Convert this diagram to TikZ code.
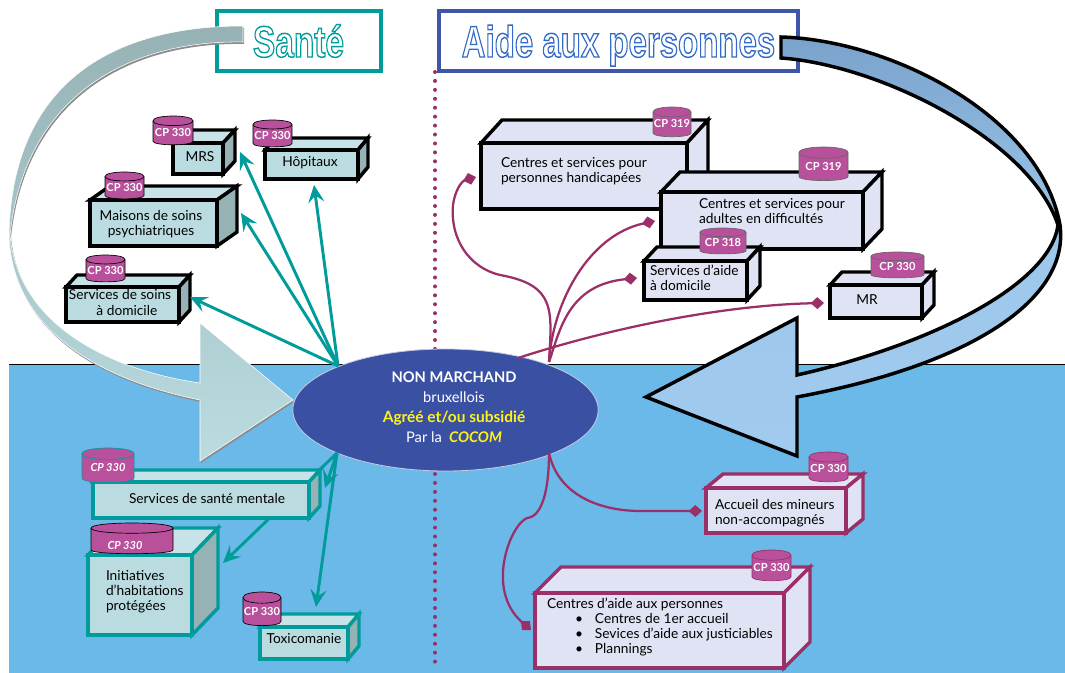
\documentclass[tikz,border=0pt]{standalone}
\usepackage{fontspec}
\usepackage{graphicx}
\usetikzlibrary{arrows.meta,shapes.geometric}
\setmainfont{Lato}
\newfontfamily\titlefont{Liberation Sans}
\definecolor{tealc}{HTML}{009B9B}
\definecolor{bluec}{HTML}{3F56A8}
\definecolor{magc}{HTML}{9B3068}
\definecolor{cylc}{HTML}{B8509B}
\definecolor{seac}{HTML}{6BB9E8}
\definecolor{hubc}{HTML}{3A50A3}
\definecolor{tfront}{HTML}{BADCE0}
\definecolor{ttop}{HTML}{C8E3E8}
\definecolor{tside}{HTML}{96B2B5}
\definecolor{lav}{HTML}{E0E3F3}
\definecolor{ltop}{HTML}{E0E3F3}
\definecolor{lside}{HTML}{E0E3F3}
\definecolor{yel}{HTML}{FFF21A}
\definecolor{bandA}{HTML}{7AA3CC}
\definecolor{bandB}{HTML}{9DC8EB}
\definecolor{bandC}{HTML}{A0CAEE}
\tikzset{
  lbl/.style={inner sep=0pt,outer sep=0pt,text=black,font=\fontsize{10.3}{11.3}\selectfont,align=left},
  cyllbl/.style={inner sep=0pt,text=white,font=\fontsize{8.3}{9}\selectfont\bfseries},
  blackT/.style={draw=black,fill=tfront,line width=2.6pt},
  tealT/.style={draw=tealc,fill=tfront,line width=2.6pt},
  blackL/.style={draw=black,fill=lav,line width=2.6pt},
  magL/.style={draw=magc,fill=lav,line width=2.6pt},
  tealarrow/.style={draw=tealc,line width=2.2pt,-{Stealth[length=13pt,width=12pt,inset=5pt]}},
  magline/.style={draw=magc,line width=1.7pt,-{Diamond[length=10pt,width=9pt,fill=magc]}},
  titlebox/.style={fill=white,line width=3pt,inner sep=0pt,outer sep=0pt,text height=24pt,text depth=0pt},
  hubtext/.style={inner sep=0pt,text=white,align=center,font=\fontsize{11}{15}\selectfont}
}
% cube: [front style]{name}{x1}{y1}{x2}{y2}{dx}{dy/colour family}
\newcommand\cube[8][blackT]{%
  \pgfmathsetmacro\cw{(#5-#3)*0.75}\pgfmathsetmacro\ch{(#6-#4)*0.75}%
  \cubefaces{#1}{#3}{#4}{#5}{#6}{#7}{#8}%
  \node[#1,rectangle,inner sep=0pt,outer sep=0pt,minimum width=\cw pt,minimum height=\ch pt] (box#2) at ({(#3+#5)/2},{(#4+#6)/2}) {};
}
\newcommand\cubefaces[7]{\cubefacesB{#1}{#2}{#3}{#4}{#5}{#6}#7\relax}
\def\cubefacesB#1#2#3#4#5#6#7/#8\relax{%
  \path[#1,fill=#8top,line join=miter] (#2,#3) -- (#2+#6,#3-#7) -- (#4+#6,#3-#7) -- (#4,#3) -- cycle;
  \path[#1,fill=#8side,line join=miter] (#4,#3) -- (#4+#6,#3-#7) -- (#4+#6,#5-#7) -- (#4,#5) -- cycle;
}
% cylinder: [line colour]{name}{x1}{y1}{x2}{y2}{text}
\def\cylx{0}\def\cyly{0}
\newcommand\cyl[7][black]{%
  \pgfmathsetmacro\crx{(#5-#3)/2}\pgfmathsetmacro\cry{(#6-#4)*0.16}\pgfmathsetmacro\cmx{(#3+#5)/2}%
  \draw[#1,fill=cylc,line width=.5pt] (#3,#4+\cry) -- (#3,#6-\cry) .. controls (#3,#6) and (#5,#6) .. (#5,#6-\cry) -- (#5,#4+\cry) .. controls (#5,#4-\cry*.33) and (#3,#4-\cry*.33) .. (#3,#4+\cry) -- cycle;
  \draw[#1,line width=.5pt] (#3,#4+\cry) .. controls (#3,#4+2.33*\cry) and (#5,#4+2.33*\cry) .. (#5,#4+\cry);
  \node[cyllbl] (#2) at (\cmx+\cylx,{(#4+#6)/2+\cry*.3+\cyly}) {#7};
}
\newcommand\outlined[2]{\special{pdf:code q 2 Tr 1.1 w #1 RG}#2\special{pdf:code Q}}
\begin{document}
\begin{tikzpicture}[x=0.75pt,y=-0.75pt]
\useasboundingbox (0,0) rectangle (1065,673);
\fill[white] (0,0) rectangle (1065,673);
% sea
\path[fill=seac] (9,364) rectangle (1065,673);
\draw[black,line width=.7pt] (9,364) -- (1065,364);
% dotted separator
\coordinate (sepA) at (435,72);
\coordinate (sepB) at (435,665);
\draw[magc,line width=3pt,line cap=round,dash pattern=on 0pt off 6.7pt] (sepA) -- (sepB);
% titles
\node[titlebox,draw=tealc,minimum width=123pt,minimum height=45pt] (sante) at (298.5,41)
  {\titlefont\fontsize{33}{33}\selectfont\bfseries\color{white}\scalebox{.76}[1]{\outlined{0 .61 .61}{Santé}}};
\node[titlebox,draw=bluec,minimum width=269pt,minimum height=45pt] (aide) at (618.5,41)
  {\titlefont\fontsize{33}{33}\selectfont\bfseries\color{white}\scalebox{.75}[1]{\outlined{.2 .42 .78}{Aide aux personnes}}};
% left big arrow
\path[fill=black!45] (244,28) .. controls (110,28) and (12,87) .. (10,237) .. controls (13,332) and (101,382) .. (201,402)
   -- (201,463) -- (294,402) -- (201,385) .. controls (111,372) and (19,327) .. (11,237) .. controls (26,97) and (131,42) .. (244,44) -- cycle;
\shade[top color=tside,bottom color=tfront,middle color=tside!50!tfront,draw=white,line width=.4pt]
   (243,26) .. controls (110,26) and (12,85) .. (9,235) .. controls (12,330) and (100,380) .. (200,400)
   -- (200,461) -- (293,400) -- (200,323) -- (200,383) .. controls (110,370) and (18,325) .. (10,235) .. controls (25,95) and (130,40) .. (243,42) -- cycle;
% right big arrow
\shade[draw=black,line width=2.6pt,line join=miter,top color=bandA,bottom color=bandC,middle color=bandB]
   (781,37) .. controls (890,40) and (1040,115) .. (1060,225) .. controls (1070,300) and (970,365) .. (797,397)
   -- (797,456) -- (646,397) -- (797,318) -- (797,375) .. controls (930,345) and (1050,285) .. (1058,225) .. controls (1030,140) and (880,65) .. (781,58) -- cycle;
% hub
\node[ellipse,fill=hubc,draw=white!70!hubc,line width=.6pt,inner sep=0pt,outer sep=0pt,minimum width=229pt,minimum height=91.5pt] (hub) at (445.5,410) {};
\node[hubtext] (hubt) at (454,407) {\textbf{NON MARCHAND}\\bruxellois\\{\color{yel}\fontsize{11.6}{15}\selectfont\textbf{Agréé et/ou subsidié}}\\Par la\enspace{\color{yel}\textbf{\textit{COCOM}}}};
% hub anchor coordinates
\coordinate (hn) at (338,366);
\coordinate (hs) at (337,453);
\coordinate (mn) at (549,362);
\coordinate (mnb) at (518,358);
\coordinate (ms) at (549,453);
% arrow passing behind Santé mentale
\coordinate (tInit) at (223,563);
\draw[tealarrow] (hs) -- (tInit);
% Santé cubes
\cube[blackT]{M}{173}{143}{223}{174}{12}{13/t}
\node[lbl] (tMRS) at (200,157) {MRS};
\cyl{cMRS}{153}{116}{193}{146}{CP 330}
\cube[blackT]{H}{265}{150}{358}{179}{10}{12/t}
\node[lbl] (tH) at (310,163) {Hôpitaux};
\cyl{cH}{253}{120}{292}{148}{CP 330}
\cube[blackT]{P}{90}{200}{217}{246}{20}{14/t}
\node[lbl,align=center] (tP) at (151,224) {Maisons de soins\\psychiatriques};
\cyl{cP}{105}{172}{144}{200}{CP 330}
\cube[blackT]{D}{66}{287}{179}{322}{11}{12/t}
\node[lbl,align=center] (tD) at (120,302.5) {Services de soins\\\hspace*{1em}à domicile};
\cyl{cD}{86}{255}{125}{283}{CP 330}
\cube[tealT]{S}{93}{482}{309}{518}{11}{12/t}
\node[lbl] (tS) at (207,498) {Services de santé mentale};
\cyl[tealc]{cS}{82}{448}{134}{484}{\itshape CP 330}
\cube[tealT]{I}{88}{555}{192}{635}{26}{27/t}
\node[lbl,anchor=west] (tI) at (106,592) {Initiatives\\d’habitations\\protégées};
\def\cylx{-7}\def\cyly{5}
\cyl{cI}{91}{523}{173}{555}{\itshape CP 330}
\def\cylx{0}\def\cyly{0}
\cube[tealT]{T}{260}{627}{348}{659}{11}{13/t}
\node[lbl] (tT) at (304,639) {Toxicomanie};
\cyl{cT}{243}{592}{281}{627}{CP 330}
% teal arrows
\coordinate (tM) at (240,152);
\coordinate (tHo) at (314,185);
\coordinate (tMa) at (241,213);
\coordinate (tSo) at (190,297);
\coordinate (tSa) at (325,488);
\coordinate (tTo) at (316,607);
\draw[tealarrow] (hn) -- (tM);
\draw[tealarrow] (hn) -- (tHo);
\draw[tealarrow] (hn) -- (tMa);
\draw[tealarrow] (hn) -- (tSo);
\draw[tealarrow] (hs) -- (tSa);
\draw[tealarrow] (hs) -- (tTo);
% Aide cubes
\cube[blackL]{A}{481}{143}{687}{209}{21}{23/l}
\node[lbl,anchor=west] (tA) at (501,171.5) {Centres et services pour\\personnes handicapées};
\cyl[black!60]{cA}{653}{107}{691}{138}{CP 319}
\cube[blackL]{B}{661}{192}{863}{249}{19}{20/l}
\node[lbl,anchor=west] (tB) at (699,211.5) {Centres et services pour\\adultes en difficultés};
\cyl[black!60]{cB}{799}{147}{848}{182}{CP 319}
\cube[blackL]{C}{644}{261}{747}{300}{13}{14/l}
\node[lbl,anchor=west] (tC) at (650,278) {Services d’aide\\à domicile};
\cyl[black!60]{cC}{700}{228}{746}{255}{CP 318}
\cube[blackL]{E}{830}{285}{922}{318}{12}{13/l}
\node[lbl] (tE) at (867,300) {MR};
\cyl[black!60]{cE}{871}{252}{924}{279}{CP 330}
\cube[magL]{F}{706}{488}{846}{533}{17}{14/l}
\node[lbl,anchor=west] (tF) at (715,513) {Accueil des mineurs\\non-accompagnés};
\cyl[magc]{cF}{809}{452}{848}{483}{CP 330}
\cube[magL]{G}{535}{593}{784}{668}{26}{26/l}
\node[lbl,anchor=west] (tG) at (547,627) {Centres d’aide aux personnes\\\hspace*{21pt}•\hspace{9pt}Centres de 1er accueil\\\hspace*{21pt}•\hspace{9pt}Sevices d’aide aux justiciables\\\hspace*{21pt}•\hspace{9pt}Plannings};
\cyl[magc]{cG}{752}{550}{791}{582}{CP 330}
% magenta connectors
\coordinate (dA) at (476,177);
\coordinate (dB) at (655,221);
\coordinate (dC) at (637,278);
\coordinate (dE) at (824,303);
\coordinate (dF) at (702,511);
\coordinate (dG) at (531,630);
\draw[magline] (mn) .. controls (552,310) and (556,285) .. (500,275) .. controls (470,268) and (450,240) .. (453,205) .. controls (455,190) and (462,181) .. (dA);
\draw[magline] (mn) .. controls (553,300) and (590,235) .. (dB);
\draw[magline] (mn) .. controls (560,330) and (568,285) .. (dC);
\draw[magline] (mnb) .. controls (620,325) and (730,305) .. (dE);
\draw[magline] (ms) .. controls (558,495) and (600,512) .. (645,511) -- (dF);
\draw[magline] (ms) .. controls (549,490) and (542,517) .. (527,518) .. controls (510,525) and (485,590) .. (dG);
\end{tikzpicture}
\end{document}
